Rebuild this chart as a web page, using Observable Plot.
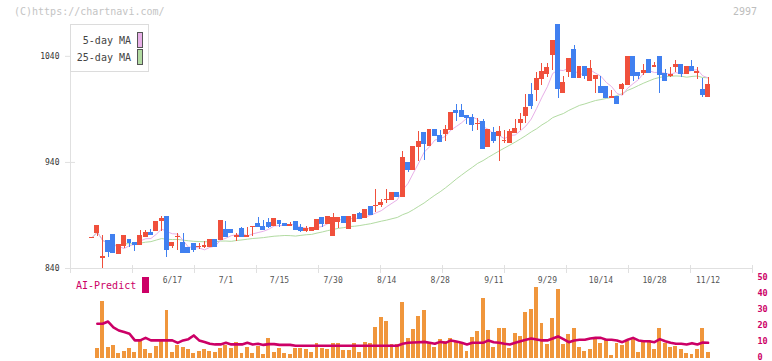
<!DOCTYPE html>
<html><head><meta charset="utf-8">
<script src="https://cdn.jsdelivr.net/npm/d3@7"></script>
<script src="https://cdn.jsdelivr.net/npm/@observablehq/plot@0.6"></script>
<style>
body{margin:0;background:#fff;}
#wrap{position:relative;width:772px;height:361px;overflow:hidden;font-family:"DejaVu Sans Mono",monospace;background:#fff;}
#wrap svg{position:absolute;left:0;top:0;}
.abs{position:absolute;white-space:nowrap;line-height:12px;}
</style></head><body><div id="wrap"></div>
<script>
// ---- data ----
const open  = [868.8,873.3,850.2,865.5,872.0,853.9,861.0,867.3,863.6,862.3,869.5,873.7,875.2,884.6,888.4,861.0,869.3,863.8,859.5,863.3,860.1,860.5,860.7,866.4,867.1,876.5,876.5,869.8,876.8,869.5,879.0,882.4,879.3,883.1,879.9,885.2,882.4,880.3,883.4,878.0,875.5,875.2,876.5,887.4,881.8,870.4,883.7,889.0,877.0,884.3,891.8,887.8,898.3,898.5,899.4,904.5,904.1,911.6,907.2,939.9,933.3,954.3,967.5,955.3,970.1,964.9,966.6,970.6,988.9,988.0,983.6,982.0,975.8,977.9,954.3,967.5,964.7,959.8,958.1,967.5,976.9,983.3,1003.1,1007.8,1018.2,1022.9,1041.7,1070.0,1005.2,1025.0,1046.4,1019.4,1029.7,1017.2,1018.2,1010.9,1010.9,1000.5,1002.1,1009.2,1013.2,1038.9,1024.5,1024.1,1036.1,1030.2,1039.8,1023.8,1021.7,1029.7,1032.1,1023.5,1029.5,1024.6,1008.7,1002.1];
const high  = [869.5,879.6,871.0,865.5,872.0,862.6,870.2,867.3,863.6,875.8,875.8,876.5,884.3,889.0,888.4,863.8,872.7,872.7,859.5,863.3,863.8,865.7,866.4,866.4,885.2,884.3,876.5,873.3,878.4,878.4,879.6,887.8,885.5,886.8,886.2,885.2,882.4,883.1,883.4,881.5,879.6,878.0,885.9,887.8,888.1,891.6,887.4,889.0,888.1,890.6,893.1,895.1,898.3,914.5,905.0,914.5,911.6,911.6,950.3,939.9,954.1,968.7,967.5,970.1,970.1,970.0,974.8,986.8,994.6,994.6,983.6,985.2,981.4,980.8,970.1,972.9,974.1,970.1,970.7,980.4,985.8,1003.8,1014.1,1024.7,1033.5,1033.7,1054.9,1070.0,1021.0,1038.0,1050.2,1029.7,1029.7,1036.1,1021.9,1021.0,1010.9,1007.8,1002.1,1014.7,1038.9,1038.9,1024.5,1032.1,1036.1,1034.2,1039.8,1027.3,1029.5,1035.6,1032.1,1030.4,1036.1,1029.5,1019.4,1020.0];
const low   = [868.5,870.2,840.0,850.7,854.4,853.9,859.1,860.1,856.3,862.3,869.5,871.4,875.2,875.2,850.1,859.1,857.0,854.8,854.8,855.4,857.6,858.6,860.7,860.7,867.1,869.5,873.0,865.5,869.5,869.5,870.4,879.3,876.1,878.0,879.9,878.6,879.9,880.0,876.5,873.9,874.2,875.2,876.5,878.4,881.8,870.4,878.0,882.7,877.0,884.3,886.5,887.8,890.7,892.8,897.8,901.6,904.1,907.2,907.2,930.5,933.3,941.1,941.8,955.3,964.9,959.7,960.0,970.6,978.6,982.6,975.7,969.6,970.1,952.2,954.3,958.1,941.1,957.5,958.1,967.5,970.1,977.0,989.9,997.4,1012.5,1019.6,1026.6,1000.2,1005.2,1019.8,1019.4,1019.4,1018.2,1016.3,1004.7,1005.2,1000.5,1000.5,995.2,1003.1,1013.2,1016.7,1017.7,1021.9,1024.1,1029.3,1005.2,1016.5,1020.5,1025.2,1020.0,1023.5,1026.6,1018.6,1001.2,1002.1];
const close = [869.0,879.6,850.8,856.0,854.4,862.6,870.2,864.5,862.0,870.2,873.3,871.4,884.3,886.8,857.6,863.8,869.8,854.8,854.8,857.0,860.5,861.0,866.4,860.7,885.2,869.5,873.0,870.2,869.5,871.1,879.4,879.3,876.1,879.3,886.2,881.8,879.9,880.7,876.5,875.2,877.4,878.0,885.9,881.8,888.1,887.8,887.4,882.7,888.1,890.6,886.5,895.1,890.7,898.9,901.3,904.9,911.6,907.2,944.6,933.0,954.1,958.8,957.5,970.1,964.9,959.7,971.0,986.8,986.8,982.6,982.0,975.3,976.2,952.2,970.1,960.0,969.1,960.2,968.2,971.7,980.4,991.1,993.0,1018.2,1025.0,1029.2,1054.0,1009.2,1015.3,1037.7,1019.4,1029.7,1021.9,1027.6,1021.9,1005.2,1000.5,1002.1,995.2,1013.4,1038.9,1021.2,1021.2,1026.6,1024.1,1030.6,1022.4,1016.5,1022.1,1032.1,1023.1,1030.4,1026.6,1025.0,1003.1,1013.4];
const volume = [null,6.5,35.6,7.1,8.3,3.3,4.6,6.3,3.8,10.6,5.6,3.3,7.5,10.6,30.0,3.8,8.3,7.1,5.8,3.3,4.4,5.6,4.4,3.8,6.5,8.3,6.5,10.0,3.3,7.0,3.3,7.7,2.5,12.5,3.8,6.5,3.3,2.5,6.3,6.0,5.6,3.8,9.4,6.5,5.6,9.4,9.4,5.0,5.0,9.4,3.8,10.0,9.4,19.6,25.8,23.1,8.8,8.8,35.0,12.5,18.1,26.3,30.0,10.2,7.1,11.9,10.8,12.7,10.6,9.2,4.6,13.3,17.0,37.5,17.7,7.1,19.0,19.0,6.5,15.6,14.0,28.8,30.6,44.4,21.9,8.8,25.0,43.3,8.8,15.0,18.8,7.0,4.4,5.6,11.9,9.4,11.9,1.9,9.4,8.1,10.6,11.9,3.8,10.6,11.3,5.6,18.8,9.4,7.0,7.5,5.6,3.1,2.5,5.6,18.8,3.8];
const aiPredict = [null,21.7,21.7,23.1,19.5,17.5,16.5,15.5,11.3,11.3,12.9,11.3,11.3,11.3,11.3,11.3,9.8,11.3,12.1,14.4,11.3,10.3,9.2,8.8,8.8,9.8,8.8,8.8,8.8,9.8,8.8,9.2,8.5,9.0,9.0,8.5,8.5,8.5,8.0,8.0,8.0,8.0,8.0,8.0,8.0,8.0,8.0,8.0,8.0,8.0,8.0,8.0,8.0,8.0,8.0,8.0,8.0,8.0,9.2,9.8,10.0,10.2,10.4,9.8,9.2,10.4,9.8,11.3,10.6,9.8,8.8,9.8,9.8,9.8,11.3,10.2,9.8,9.2,8.8,9.8,10.8,11.7,12.5,11.9,11.3,11.3,12.5,13.8,12.1,10.2,11.3,11.7,11.7,12.5,12.9,12.9,11.7,11.7,11.3,10.2,11.7,12.9,11.3,10.8,10.8,10.2,12.1,10.8,9.8,9.2,9.2,8.8,9.6,8.8,10.0,9.8];
const dateLabels = ["6/17","7/1","7/15","7/30","8/14","8/28","9/11","9/29","10/14","10/28","11/12"];
const dateLabelIndex = [15,25,35,45,55,65,75,85,95,105,115];
const priceTicks = [840,940,1040];
const volTicks = [0,10,20,30,40,50];

// ---- styles ----
const RED = "#f0503c", BLUE = "#4080f0", ORANGE = "#f0963c", CRIMSON = "#cc0066";
const PINK = "#e8b0e8", GREEN = "#b2dba2", AXIS = "#e0e0e0";
const FONT = "DejaVu Sans Mono, monospace";

const rows = close.map((c, i) => ({i, o: open[i], h: high[i], l: low[i], c, up: c >= open[i]}));
const vrows = volume.map((v, i) => ({i, v, a: aiPredict[i]}));
const xDomain = [-4.013, 123.296];
const gridTicks = d3.range(12).map(k => xDomain[0] + k * (xDomain[1] - xDomain[0]) / 11);

const main = Plot.plot({
  width: 772, height: 361,
  marginLeft: 70, marginRight: 20, marginTop: 24, marginBottom: 93,
  x: {domain: xDomain, axis: null, label: null},
  y: {domain: [840, 1070], axis: null, label: null},
  style: {background: "transparent", fontFamily: FONT},
  marks: [
    Plot.ruleX([xDomain[0]], {stroke: AXIS}),
    Plot.ruleY([840], {stroke: AXIS}),
    Plot.axisX({ticks: gridTicks, tickSize: 8, dy: -3, tickFormat: () => "", stroke: AXIS, label: null}),
    Plot.axisX({ticks: dateLabelIndex, tickSize: 0, tickPadding: 9, fontSize: 8, label: null,
      tickFormat: d => dateLabels[dateLabelIndex.indexOf(d)], fill: "#555"}),
    Plot.axisY({ticks: priceTicks, tickSize: 10, tickPadding: 6, dx: 5, fontSize: 8, label: null,
      tickFormat: d => String(d), stroke: AXIS, fill: "#333"}),
    Plot.lineY(rows, Plot.windowY({k: 25, anchor: "end", strict: false}, {x: "i", y: "c", stroke: GREEN, strokeWidth: 1})),
    Plot.lineY(rows, Plot.windowY({k: 5, anchor: "end", strict: false}, {x: "i", y: "c", stroke: PINK, strokeWidth: 1})),
    Plot.ruleX(rows, {x: "i", y1: "l", y2: "h", stroke: d => d.up ? RED : BLUE, strokeWidth: 1, shapeRendering: "crispEdges"}),
    Plot.rect(rows, {x1: d => d.i - 0.46, x2: d => d.i + 0.46, y1: "o", y2: "c",
      fill: d => d.up ? RED : BLUE, insetTop: -0.5, insetBottom: -0.5, shapeRendering: "crispEdges"})
  ]
});

const lower = Plot.plot({
  width: 772, height: 361,
  marginLeft: 70, marginRight: 20, marginTop: 278, marginBottom: 3,
  x: {domain: xDomain, axis: null, label: null},
  y: {domain: [0, 50], axis: null, label: null},
  style: {background: "transparent", fontFamily: FONT},
  marks: [
    Plot.rect(vrows.filter(d => d.v != null), {x1: d => d.i - 0.37, x2: d => d.i + 0.37, y1: 0, y2: "v",
      fill: ORANGE, shapeRendering: "crispEdges"}),
    Plot.line(vrows.filter(d => d.a != null), {x: "i", y: "a", stroke: CRIMSON, strokeWidth: 2.6}),
    Plot.axisY({anchor: "right", ticks: volTicks, tickSize: 0, tickPadding: 5, fontSize: 8.5, label: null,
      fontWeight: "bold", color: CRIMSON, dy: -1})
  ]
});

const wrap = document.getElementById("wrap");
wrap.appendChild(main);
wrap.appendChild(lower);

function addDiv(text, css) {
  const d = document.createElement("div");
  d.className = "abs";
  d.textContent = text;
  Object.assign(d.style, css);
  wrap.appendChild(d);
  return d;
}
addDiv("(C)https://chartnavi.com/", {left: "14px", top: "6px", fontSize: "10px", color: "#c4c4c4"});
addDiv("2997", {left: "733px", top: "6px", fontSize: "10px", color: "#bdbdbd"});

// legend
const leg = addDiv("", {left: "70px", top: "24px", width: "77px", height: "46px", border: "1px solid #dcdcdc", background: "#fff"});
const legItems = [["5-day MA", PINK], ["25-day MA", GREEN]];
legItems.forEach(([label, col], k) => {
  const t = document.createElement("div");
  t.textContent = label;
  Object.assign(t.style, {position: "absolute", right: "17px", top: (10 + 17 * k) + "px", fontSize: "10px", color: "#444", lineHeight: "12px"});
  leg.appendChild(t);
  const s = document.createElement("div");
  Object.assign(s.style, {position: "absolute", left: "66px", top: (7 + 17 * k) + "px", width: "4px", height: "14px", border: "1px solid #555", background: col});
  leg.appendChild(s);
});

addDiv("AI-Predict", {left: "76px", top: "280px", fontSize: "10px", color: CRIMSON});
addDiv("", {left: "142px", top: "277px", width: "7px", height: "16px", background: CRIMSON});
</script>
</body></html>
